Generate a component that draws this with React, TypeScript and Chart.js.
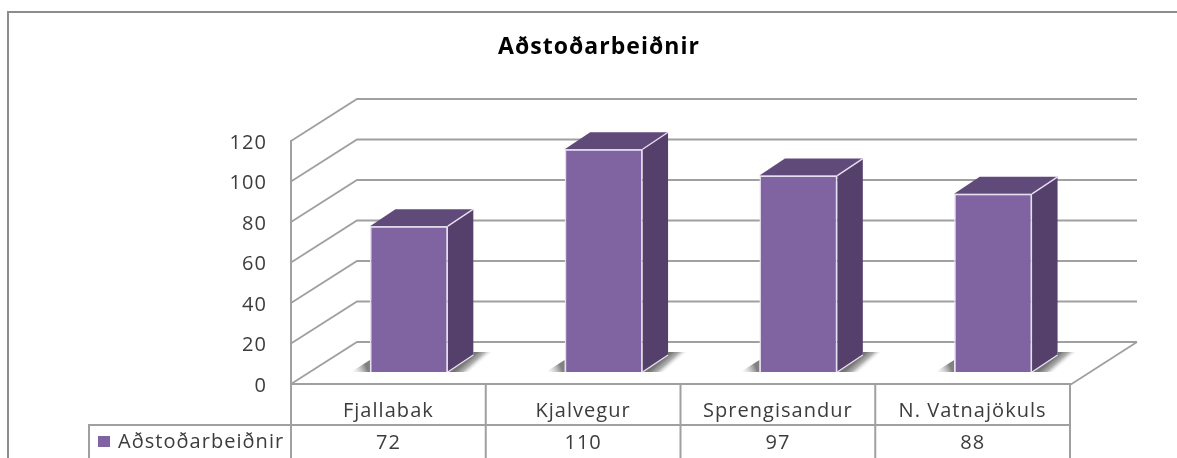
import React, { useEffect, useRef } from "react";
import { Chart, registerables } from "chart.js";

Chart.register(...registerables);

const categories = ["Fjallabak", "Kjalvegur", "Sprengisandur", "N. Vatnajökuls"];
const seriesName = "Aðstoðarbeiðnir";
const values = [72, 110, 97, 88];
const chartTitle = "Aðstoðarbeiðnir";

const FONT = "'Open Sans', sans-serif";
const TEXT = "#3c3c3c";
const LINE = "#a0a0a0";
const FRONT = "#8064a2";
const SIDE = "#54406a";
const TOP = "#604a7a";
const EDGE = "#e6dff0";
const WALL_DX = 66;
const WALL_DY = -42;
const BAR_DX = 20.5;
const BAR_DY = -12;
const BAR_DEPTH_X = 25.5;
const BAR_DEPTH_Y = -17;

const poly = (ctx: CanvasRenderingContext2D, pts: number[][]) => {
  ctx.beginPath();
  pts.forEach(([x, y], i) => (i ? ctx.lineTo(x, y) : ctx.moveTo(x, y)));
  ctx.closePath();
};

const threeD = {
  id: "threeD",
  beforeDraw(chart: any) {
    const ctx = chart.ctx;
    ctx.letterSpacing = "1.04px";
    ctx.save();
    ctx.strokeStyle = "#8c8c8c";
    ctx.lineWidth = 2;
    ctx.beginPath();
    ctx.moveTo(8, chart.height);
    ctx.lineTo(8, 12);
    ctx.lineTo(chart.width, 12);
    ctx.stroke();
    ctx.restore();
  },
  beforeDatasetsDraw(chart: any) {
    const ctx = chart.ctx;
    const { left, right, bottom } = chart.chartArea;
    const y = chart.scales.y;
    ctx.save();
    ctx.strokeStyle = LINE;
    ctx.lineWidth = 1.8;
    y.ticks.forEach((t: any) => {
      const py = y.getPixelForValue(t.value);
      ctx.beginPath();
      ctx.moveTo(left, py);
      ctx.lineTo(left + WALL_DX, py + WALL_DY);
      ctx.lineTo(right + WALL_DX + 1, py + WALL_DY);
      ctx.stroke();
    });
    ctx.beginPath();
    ctx.moveTo(right, bottom + 1);
    ctx.lineTo(right + WALL_DX + 1, bottom + WALL_DY);
    ctx.stroke();
    ctx.restore();

    ctx.save();
    ctx.translate(BAR_DX, BAR_DY);
    const meta = chart.getDatasetMeta(0);
    meta.data.forEach((bar: any) => {
      const l = bar.x - bar.width / 2;
      const r = bar.x + bar.width / 2;
      const t = bar.y;
      const b = bar.base;
      const backR = r + BAR_DEPTH_X;
      const backB = b + BAR_DEPTH_Y;
      const gr = ctx.createLinearGradient(backR, backB, backR + 14, backB + 16);
      gr.addColorStop(0, "rgba(110,110,110,0.95)");
      gr.addColorStop(0.25, "rgba(150,150,150,0.75)");
      gr.addColorStop(0.5, "rgba(230,230,230,0)");
      ctx.fillStyle = gr;
      poly(ctx, [[r, b], [backR, backB], [backR, backB - 3], [backR + 20, backB - 3], [r + 24, b]]);
      ctx.fill();
      const gl = ctx.createLinearGradient(l - 18, b, l - 4, b - 6);
      gl.addColorStop(0, "rgba(200,200,200,0)");
      gl.addColorStop(1, "rgba(115,115,115,0.9)");
      ctx.fillStyle = gl;
      poly(ctx, [[l - 19, b], [l, b - 12], [l, b]]);
      ctx.fill();

      ctx.fillStyle = SIDE;
      poly(ctx, [[r, t], [backR, t + BAR_DEPTH_Y], [backR, backB], [r, b]]);
      ctx.fill();
      ctx.fillStyle = TOP;
      poly(ctx, [[l, t], [l + BAR_DEPTH_X, t + BAR_DEPTH_Y], [backR, t + BAR_DEPTH_Y], [r, t]]);
      ctx.fill();
      ctx.strokeStyle = EDGE;
      ctx.lineWidth = 1.4;
      ctx.beginPath();
      ctx.moveTo(r, t);
      ctx.lineTo(backR, t + BAR_DEPTH_Y);
      ctx.moveTo(r, b);
      ctx.lineTo(backR, backB);
      ctx.stroke();
    });
  },
  afterDatasetsDraw(chart: any) {
    chart.ctx.restore();
  },
  afterDraw(chart: any) {
    const ctx = chart.ctx;
    const { left, right, bottom } = chart.chartArea;
    const step = (right - left) / categories.length;
    const rowY = bottom + 41;
    const tableLeft = left - 202;
    ctx.save();
    ctx.strokeStyle = LINE;
    ctx.lineWidth = 2;
    ctx.beginPath();
    ctx.moveTo(tableLeft, chart.height);
    ctx.lineTo(tableLeft, rowY);
    ctx.lineTo(right, rowY);
    categories.forEach((_, i) => {
      ctx.moveTo(left + step * (i + 1), bottom);
      ctx.lineTo(left + step * (i + 1), chart.height);
    });
    ctx.moveTo(left, bottom);
    ctx.lineTo(left, chart.height);
    ctx.stroke();

    ctx.font = `20px ${FONT}`;
    ctx.fillStyle = FRONT;
    ctx.fillRect(tableLeft + 9, rowY + 11, 12, 11);
    ctx.fillStyle = TEXT;
    ctx.textBaseline = "middle";
    ctx.textAlign = "left";
    ctx.fillText(seriesName, tableLeft + 29, rowY + 17);
    ctx.textAlign = "center";
    values.forEach((v, i) => {
      ctx.fillText(String(v), left + step * (i + 0.5), rowY + 18);
    });
    ctx.restore();
  },
};

export default function App() {
  const ref = useRef<HTMLCanvasElement>(null);
  useEffect(() => {
    const chart = new Chart(ref.current!, {
      type: "bar",
      data: {
        labels: categories,
        datasets: [
          {
            label: seriesName,
            data: values,
            backgroundColor: FRONT,
            borderColor: EDGE,
            borderWidth: 1.5,
            categoryPercentage: 1,
            barPercentage: 0.4,
            clip: false,
          } as any,
        ],
      },
      options: {
        responsive: false,
        animation: false,
        layout: { padding: { left: 128, right: 107, top: 0, bottom: 0 } },
        plugins: {
          legend: { display: false },
          tooltip: { enabled: false },
          title: {
            display: true,
            text: chartTitle,
            color: "#000",
            font: { family: FONT, size: 23, weight: "bold", lineHeight: 1.2 },
            padding: { top: 34, bottom: 79.4 },
          },
        },
        scales: {
          x: {
            grid: { display: false, drawTicks: false },
            border: { display: true, color: LINE, width: 2 },
            ticks: {
              color: TEXT,
              font: { family: FONT, size: 20 },
              padding: 15,
              autoSkip: false,
              maxRotation: 0,
            },
            afterFit(s: any) {
              s.height = 74;
            },
          },
          y: {
            min: 0,
            max: 120,
            grid: { display: false, drawTicks: false },
            border: { display: true, color: LINE, width: 2 },
            ticks: {
              stepSize: 20,
              color: TEXT,
              font: { family: FONT, size: 20 },
              padding: 24,
              labelOffset: 2,
            },
            afterFit(s: any) {
              s.width = 163;
            },
          },
        },
      },
      plugins: [threeD],
    } as any);
    return () => chart.destroy();
  }, []);
  return (
    <canvas
      ref={ref}
      width={1177}
      height={458}
      style={{ position: "absolute", left: 0, top: 0, display: "block", filter: "blur(0.5px)" }}
    />
  );
}
